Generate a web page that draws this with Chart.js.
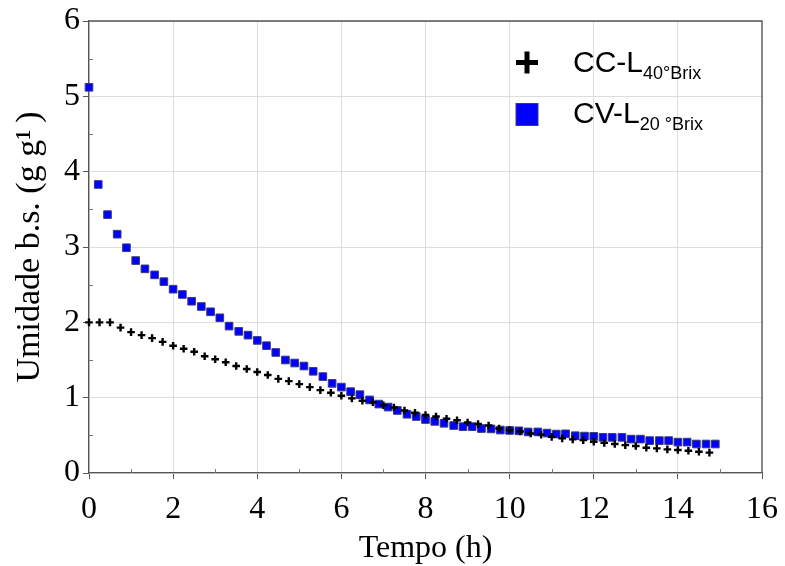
<!DOCTYPE html>
<html>
<head>
<meta charset="utf-8">
<script src="https://cdn.jsdelivr.net/npm/chart.js@4.4.1/dist/chart.umd.min.js"></script>
<style>
  html, body { margin: 0; padding: 0; background: #fff; }
  #wrap { width: 785px; height: 566px; }
</style>
</head>
<body>
<div id="wrap"><canvas id="c" width="785" height="566"></canvas></div>
<script>
// ---- Data ----
const seriesNames = ["CC-L", "CV-L"];
const seriesSubs = ["40°Brix", "20 °Brix"];

const ccTime = [0,0.25,0.5,0.75,1,1.25,1.5,1.75,2,2.25,2.5,2.75,3,3.25,3.5,3.75,4,4.25,4.5,4.75,
  5,5.25,5.5,5.75,6,6.25,6.5,6.75,7,7.25,7.5,7.75,8,8.25,8.5,8.75,9,9.25,9.5,9.75,
  10,10.25,10.5,10.75,11,11.25,11.5,11.75,12,12.25,12.5,12.75,13,13.25,13.5,13.75,14,14.25,14.5,14.75];
const ccMoisture = [2.00,2.00,2.00,1.93,1.87,1.83,1.79,1.74,1.69,1.65,1.61,1.55,1.51,1.47,1.42,1.38,1.34,1.30,1.25,1.22,
  1.18,1.14,1.10,1.065,1.025,0.99,0.96,0.94,0.90,0.87,0.83,0.80,0.77,0.75,0.72,0.70,0.67,0.65,0.63,0.59,
  0.57,0.55,0.525,0.51,0.48,0.46,0.447,0.437,0.415,0.40,0.385,0.37,0.358,0.336,0.327,0.314,0.305,0.296,0.283,0.27];

const cvTime = [0,0.22,0.44,0.67,0.89,1.11,1.33,1.56,1.78,2.00,2.22,2.44,2.67,2.89,3.11,3.33,3.56,3.78,4.00,
  4.22,4.44,4.67,4.89,5.11,5.33,5.56,5.78,6.00,6.22,6.44,6.67,6.89,7.11,7.33,7.56,7.78,8.00,
  8.22,8.44,8.67,8.89,9.11,9.33,9.56,9.78,10.00,10.22,10.44,10.67,10.89,11.11,11.33,11.56,11.78,12.00,
  12.22,12.44,12.67,12.89,13.11,13.33,13.56,13.78,14.00,14.22,14.44,14.67,14.89];
const cvMoisture = [5.12,3.83,3.43,3.17,2.99,2.82,2.71,2.63,2.54,2.44,2.37,2.28,2.21,2.14,2.06,1.95,1.88,1.83,1.76,
  1.69,1.60,1.50,1.46,1.42,1.35,1.28,1.19,1.14,1.08,1.04,0.97,0.915,0.875,0.83,0.78,0.75,0.71,
  0.685,0.66,0.63,0.615,0.615,0.59,0.585,0.57,0.565,0.56,0.545,0.545,0.53,0.517,0.52,0.495,0.49,0.487,
  0.473,0.473,0.473,0.45,0.45,0.43,0.43,0.43,0.41,0.41,0.385,0.385,0.385];

const xMinorTicks = [1,3,5,7,9,11,13,15];
const yMinorTicks = [0.5,1.5,2.5,3.5,4.5,5.5];

const xTitle = "Tempo (h)";
const yTitle = "Umidade b.s. (g g\u00B9\u2009)";

// ---- helpers ----
const pts = (xs, ys) => xs.map((x, i) => ({ x: x, y: ys[i] }));
const AXIS = '#555555';
const SERIF = '"Liberation Serif", "Times New Roman", serif';
const SANS = '"Liberation Sans", Arial, sans-serif';

const framePlugin = {
  id: 'frame',
  beforeDatasetsDraw(chart) {
    const { ctx, chartArea: a, scales } = chart;
    ctx.save();
    ctx.strokeStyle = AXIS;
    ctx.lineWidth = 1.3;
    ctx.beginPath();
    ctx.moveTo(a.left, a.top); ctx.lineTo(a.right, a.top); ctx.lineTo(a.right, a.bottom);
    ctx.stroke();
    // minor ticks (inside)
    ctx.strokeStyle = '#777';
    ctx.lineWidth = 1;
    ctx.beginPath();
    xMinorTicks.forEach(v => {
      const px = Math.round(scales.x.getPixelForValue(v)) + 0.5;
      ctx.moveTo(px, a.bottom); ctx.lineTo(px, a.bottom - 4);
    });
    yMinorTicks.forEach(v => {
      const py = Math.round(scales.y.getPixelForValue(v)) + 0.5;
      ctx.moveTo(a.left, py); ctx.lineTo(a.left + 4, py);
    });
    ctx.stroke();
    ctx.restore();
  }
};

const legendPlugin = {
  id: 'customLegend',
  afterDraw(chart) {
    const ctx = chart.ctx;
    ctx.save();
    // plus marker
    ctx.fillStyle = '#000';
    ctx.fillRect(516, 60, 22, 5);
    ctx.fillRect(524.5, 51.5, 5, 22);
    // square marker
    ctx.fillStyle = '#0000ff';
    ctx.fillRect(516, 103.5, 22, 22);
    ctx.strokeStyle = '#3a3a7a';
    ctx.lineWidth = 1;
    ctx.strokeRect(516, 103.5, 22, 22);
    // texts
    ctx.fillStyle = '#000';
    ctx.textBaseline = 'alphabetic';
    ctx.textAlign = 'left';
    const rows = [[72, 79], [123, 130]];
    seriesNames.forEach((n, i) => {
      ctx.font = '30px ' + SANS;
      ctx.fillText(n, 573, rows[i][0]);
      const w = ctx.measureText(n).width;
      ctx.font = '18px ' + SANS;
      ctx.fillText(seriesSubs[i], 573 + w, rows[i][1]);
    });
    ctx.restore();
  }
};

new Chart(document.getElementById('c'), {
  type: 'scatter',
  data: {
    datasets: [
      {
        label: seriesNames[0] + seriesSubs[0],
        data: pts(ccTime, ccMoisture),
        pointStyle: 'cross',
        pointRadius: 3.8,
        pointBorderWidth: 2.4,
        borderColor: '#000',
        backgroundColor: '#000',
        clip: false
      },
      {
        label: seriesNames[1] + seriesSubs[1],
        data: pts(cvTime, cvMoisture),
        pointStyle: 'rect',
        pointRadius: 5.4,
        pointBorderWidth: 1,
        borderColor: '#3a3a7a',
        backgroundColor: '#0000ff',
        clip: false
      }
    ]
  },
  options: {
    responsive: false,
    animation: false,
    devicePixelRatio: 1,
    layout: { padding: { top: 21, right: 23, left: 0, bottom: 0 } },
    plugins: { legend: { display: false }, tooltip: { enabled: false } },
    scales: {
      x: {
        type: 'linear', min: 0, max: 16,
        afterFit: s => { s.height = 93; s.paddingRight = 0; s.paddingLeft = 0; },
        ticks: { stepSize: 2, color: '#000', padding: 11, font: { family: SERIF, size: 32 } },
        grid: { color: '#dddddd', lineWidth: 1, tickColor: AXIS, tickLength: 6, tickWidth: 1 },
        border: { display: true, color: AXIS, width: 1.3 },
        title: { display: true, text: xTitle, color: '#000', font: { family: SERIF, size: 32, lineHeight: 1.1 }, padding: { top: 0, bottom: 0 } }
      },
      y: {
        type: 'linear', min: 0, max: 6,
        afterFit: s => { s.width = 89; s.paddingTop = 0; s.paddingBottom = 0; },
        ticks: { stepSize: 1, color: '#000', padding: 3, font: { family: SERIF, size: 32 } },
        grid: { color: '#dddddd', lineWidth: 1, tickColor: AXIS, tickLength: 6, tickWidth: 1 },
        border: { display: true, color: AXIS, width: 1.3 },
        title: { display: true, text: yTitle, color: '#000', font: { family: SERIF, size: 34, lineHeight: 1.1 }, padding: { top: 11, bottom: 0 } }
      }
    }
  },
  plugins: [framePlugin, legendPlugin]
});
</script>
</body>
</html>
